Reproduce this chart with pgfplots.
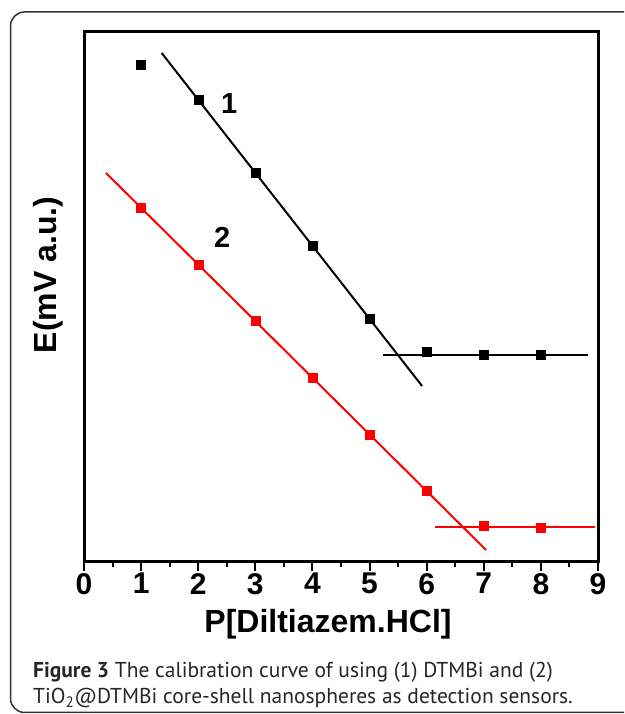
\documentclass[border=0pt]{standalone}
\usepackage{pgfplots}
\pgfplotsset{compat=1.18}
\usepackage{fontspec}
\setmainfont{Liberation Sans}
\newfontfamily\capfont{PT Sans}

\begin{document}
\begin{tikzpicture}[x=1pt,y=1pt]
\clip (0,0) rectangle (624,714);
\path[use as bounding box] (0,0) rectangle (624,714);
% outer frame
\draw[line width=1.5pt, black!80, rounded corners=14pt] (10.5,1.5) rectangle (700,702);

\begin{axis}[
    at={(84pt,152pt)}, anchor=south west,
    scale only axis,
    width=514pt, height=530pt,
    xmin=0, xmax=9,
    ymin=0, ymax=530,
    axis line style={line width=3pt},
    xtick={0,...,9},
    minor x tick num=1,
    xtick pos=bottom,
    tick align=outside,
    major tick length=9pt,
    minor tick length=5pt,
    tick style={line width=2pt, black},
    ytick=\empty,
    /pgf/number format/assume math mode=true,
    xticklabel style={font=\fontsize{30}{30}\selectfont\bfseries, inner sep=2pt},
    clip=false,
]
% series 1 (black)
\addplot[only marks, mark=square*, mark size=4.5pt, black]
    coordinates {(1,497) (2,462) (3,389) (4,316) (5,243) (6,210) (7,207) (8,207)};
\addplot[black, line width=2pt] coordinates {(1.36,509) (5.92,176)};
\addplot[black, line width=2pt] coordinates {(5.24,207) (8.83,207)};

% series 2 (red)
\addplot[only marks, mark=square*, mark size=4.5pt, red]
    coordinates {(1,354) (2,297) (3,241) (4,184) (5,127) (6,71) (7,36) (8,34)};
\addplot[red, line width=2pt] coordinates {(0.385,389) (7.04,12)};
\addplot[red, line width=2pt] coordinates {(6.15,35) (8.95,35)};

\node[font=\fontsize{29}{29}\selectfont\bfseries] at (axis cs:2.54,458) {1};
\node[font=\fontsize{29}{29}\selectfont\bfseries] at (axis cs:2.42,325) {2};
\end{axis}

\node[rotate=90, font=\fontsize{32}{32}\selectfont\bfseries] at (48,439) {E(mV a.u.)};
\node[anchor=base, font=\fontsize{32}{32}\selectfont\bfseries] at (328,81) {P[Diltiazem.HCl]};

\node[anchor=base west, inner sep=0pt, font=\capfont\fontsize{21.5}{21.5}\selectfont, text=black!85]
    at (33,36) {\textbf{Figure 3} The calibration curve of using (1) DTMBi and (2)};
\node[anchor=base west, inner sep=0pt, font=\capfont\fontsize{21.5}{21.5}\selectfont, text=black!85]
    at (33,10) {TiO\textsubscript{2}@DTMBi core-shell nanospheres as detection sensors.};
\end{tikzpicture}
\end{document}
